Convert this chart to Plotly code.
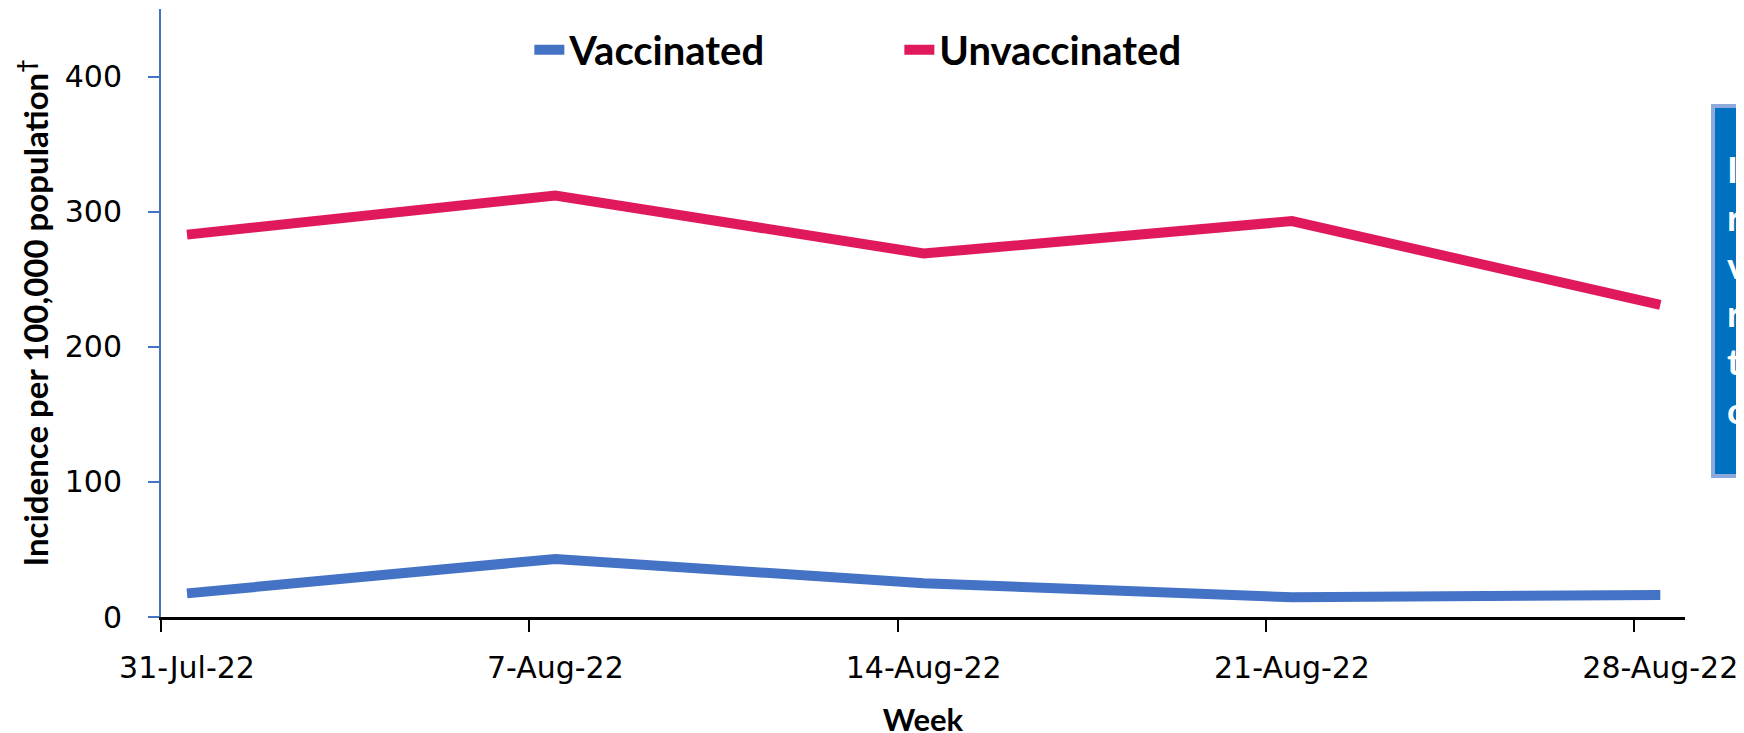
import plotly.graph_objects as go

weeks = ["31-Jul-22", "7-Aug-22", "14-Aug-22", "21-Aug-22", "28-Aug-22"]
vaccinated = [17.5, 43, 25, 14.6, 16.3]
unvaccinated = [283, 312, 269, 293, 231]
y_ticks = [0, 100, 200, 300, 400]

BLUE = "#4472C4"
RED = "#E0195C"
TITLE_FONT = "Lato"
TICK_FONT = "DejaVu Sans"

xpos = list(range(len(weeks)))
shift = 0.0706  # tick marks sit left of the category points
tickpos = [p - shift for p in xpos]
xrange = [-shift, len(weeks) - 1 + 0.067]

fig = go.Figure()
fig.add_trace(go.Scatter(x=xpos, y=vaccinated, mode="lines", name="Vaccinated",
                         line=dict(color=BLUE, width=10)))
fig.add_trace(go.Scatter(x=xpos, y=unvaccinated, mode="lines", name="Unvaccinated",
                         line=dict(color=RED, width=10)))

fig.update_layout(
    width=1744, height=733,
    margin=dict(l=153, r=67, t=1, b=124, autoexpand=False),
    plot_bgcolor="white", paper_bgcolor="white",
    showlegend=True,
    legend=dict(orientation="h", x=0.2417, y=0.933, xanchor="left", yanchor="middle",
                font=dict(family=TITLE_FONT, size=40, color="black", weight="bold"),
                entrywidth=325, bgcolor="rgba(0,0,0,0)"),
    xaxis=dict(range=xrange, tickmode="array", tickvals=tickpos, ticktext=weeks,
               ticklabelshift=26, ticks="outside", ticklen=12, tickwidth=1.5,
               tickcolor="black", showline=True, linecolor="black", linewidth=2.5,
               showgrid=False, zeroline=False, ticklabelstandoff=10, automargin=False,
               tickfont=dict(family=TICK_FONT, size=30, color="black"),
               title=dict(text="Week", standoff=26,
                          font=dict(family=TITLE_FONT, size=31, color="black", weight="bold"))),
    xaxis2=dict(range=xrange, overlaying="x", anchor="y", side="bottom", tickmode="array",
                tickvals=tickpos, ticks="inside", ticklen=12, tickwidth=1.5, tickcolor="black",
                showticklabels=False, showline=False, showgrid=False, zeroline=False),
    yaxis=dict(range=[0, 450], tickmode="array", tickvals=y_ticks,
               ticks="outside", ticklen=11, tickwidth=2, tickcolor=BLUE,
               showline=True, linecolor=BLUE, linewidth=2, showgrid=False, zeroline=False,
               ticklabelstandoff=20, automargin=False,
               tickfont=dict(family=TICK_FONT, size=30, color="black"),
               title=dict(text="Incidence per 100,000 population<sup>†</sup>", standoff=6,
                          font=dict(family=TITLE_FONT, size=33, color="black", weight="bold"))),
)

# side text box (largely outside the visible page)
fig.add_shape(type="rect", xref="paper", yref="paper", x0=1.0184, x1=1.12, y0=0.2319, y1=0.8405,
              fillcolor="#0070C0", line=dict(color="#8EA9DB", width=4), layer="above")
fig.add_annotation(xref="paper", yref="paper", x=1.0265, y=0.5395, xanchor="left", yanchor="middle",
                   showarrow=False, align="left",
                   text="Incidence<br>rates in<br>vaccinated<br>remain<br>two-fold<br>consistently",
                   font=dict(family=TITLE_FONT, size=37, color="white", weight="bold"))

fig.write_html("out.html")
